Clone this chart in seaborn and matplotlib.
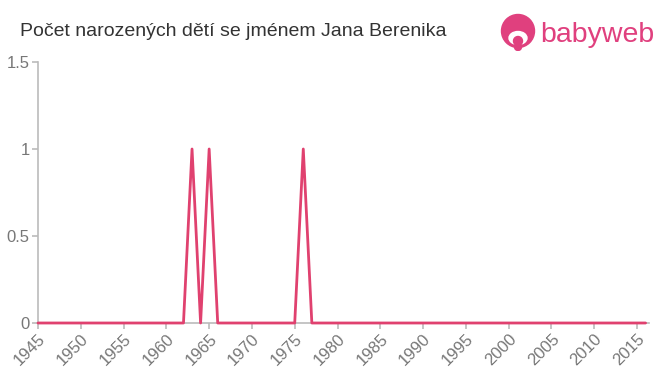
import matplotlib
matplotlib.use("Agg")
import matplotlib.pyplot as plt
import seaborn as sns
import numpy as np
import pandas as pd
from matplotlib.patches import Circle, Ellipse

years = list(range(1945, 2017))
nonzero_years = [1963, 1965, 1976]
nonzero_counts = [1, 1, 1]
counts = [nonzero_counts[nonzero_years.index(y)] if y in nonzero_years else 0 for y in years]
xticks = list(range(1945, 2016, 5))
yticks = [0, 0.5, 1, 1.5]
ytick_labels = ["0", "0.5", "1", "1.5"]
title = "Počet narozených dětí se jménem Jana Berenika"

sns.set_theme(style="white")
plt.rcParams['font.family'] = ['Liberation Sans', 'DejaVu Sans']

df = pd.DataFrame({"rok": years, "pocet": counts})

fig = plt.figure(figsize=(6.6, 3.75), dpi=100)
ax = fig.add_axes([38/660, 1-323/375, (649-38)/660, (323-62)/375])
sns.lineplot(data=df, x="rok", y="pocet", ax=ax, color="#e0416f", linewidth=2, zorder=3, clip_on=False)

ax.set_xlim(1945, 2016.4)
ax.set_ylim(0, 1.5)
ax.set_xticks(xticks)
ax.set_xticklabels([str(x) for x in xticks], rotation=45, ha="right", va="top",
                   rotation_mode="anchor", color="#777777", fontsize=12)
ax.set_yticks(yticks)
ax.set_yticklabels(ytick_labels, color="#777777", fontsize=12)
ax.set_xlabel("")
ax.set_ylabel("")
for s in ["top", "right"]:
    ax.spines[s].set_visible(False)
for s in ["left", "bottom"]:
    ax.spines[s].set_color("#bbbbbb")
    ax.spines[s].set_linewidth(1.2)
ax.tick_params(axis="both", which="both", length=4, width=1.2, color="#bbbbbb",
               direction="out", pad=2, left=True, bottom=True)
ax.grid(False)

fig.text(20/660, 1-31/375, title, fontsize=14, color="#333333", va="center", ha="left")

# logo
pink = "#e0407e"
lax = fig.add_axes([498/660, 1-51/375, 40/660, 38/375])
lax.set_xlim(0, 40); lax.set_ylim(0, 38)
lax.set_aspect("equal")
lax.axis("off")
lax.add_patch(Circle((20, 20), 16.5, color=pink))
lax.add_patch(Ellipse((20, 13), 18, 13, color="white"))
lax.add_patch(Circle((20, 10), 4.5, color=pink))
lax.add_patch(Circle((20, 4), 3.5, color=pink))
fig.text(540/660, 1-35/375, "babyweb", fontsize=20.5, color=pink, va="center", ha="left")

fig.savefig("out.png", dpi=100)
